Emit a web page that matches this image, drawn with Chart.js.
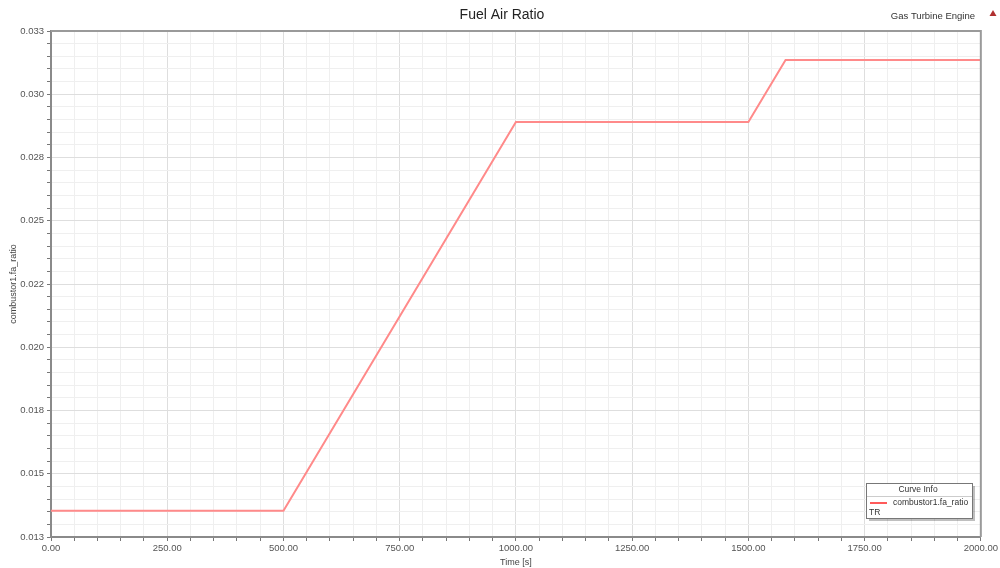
<!DOCTYPE html>
<html>
<head>
<meta charset="utf-8">
<script src="https://cdn.jsdelivr.net/npm/chart.js@4"></script>
<style>
html,body{margin:0;padding:0;background:#fff;}
#wrap{position:relative;width:1000px;height:568px;}
</style>
</head>
<body>
<div id="wrap"><canvas id="c" width="1000" height="568"></canvas></div>
<script>
// ---- data ----
const time = [0, 500, 1000, 1500, 1580, 2000];
const faRatio = [0.01354, 0.01354, 0.02890, 0.02890, 0.03135, 0.03135];
const yMajorTicks = [0.0125, 0.015, 0.0175, 0.02, 0.0225, 0.025, 0.0275, 0.03, 0.0325];
const yTickLabels = ['0.013', '0.015', '0.018', '0.020', '0.022', '0.025', '0.028', '0.030', '0.033'];
const xMajorTicks = [0, 250, 500, 750, 1000, 1250, 1500, 1750, 2000];
const xTickLabels = ['0.00', '250.00', '500.00', '750.00', '1000.00', '1250.00', '1500.00', '1750.00', '2000.00'];
const chartTitle = 'Fuel Air Ratio';
const modelName = 'Gas Turbine Engine';
const seriesName = 'combustor1.fa_ratio';
const legendHeader = 'Curve Info';
const legendFooter = 'TR';
const xTitle = 'Time [s]';
const yTitle = 'combustor1.fa_ratio';

const SUB = 5;
function subdivide(major){
  const out = [];
  for (let i = 0; i < major.length - 1; i++){
    const a = major[i], b = major[i+1];
    for (let k = 0; k < SUB; k++) out.push({value: a + (b - a) * k / SUB, major: k === 0, label: k === 0 ? i : -1});
  }
  out.push({value: major[major.length-1], major: true, label: major.length-1});
  return out;
}
const yTicks = subdivide(yMajorTicks);
const xTicks = subdivide(xMajorTicks);

const FONT = 'Liberation Sans, Arial, sans-serif';

const decor = {
  id: 'decor',
  afterDraw(chart){
    const ctx = chart.ctx, a = chart.chartArea;
    ctx.save();
    // frame top/right
    ctx.strokeStyle = '#9a9a9a';
    ctx.lineWidth = 2;
    ctx.beginPath();
    ctx.moveTo(a.left, a.top); ctx.lineTo(a.right, a.top); ctx.lineTo(a.right, a.bottom);
    ctx.stroke();
    // title
    ctx.fillStyle = '#222';
    ctx.font = '14px ' + FONT;
    ctx.textAlign = 'center'; ctx.textBaseline = 'middle';
    ctx.fillText(chartTitle, 502, 15);
    // model name
    ctx.font = '9.5px ' + FONT;
    ctx.fillStyle = '#333';
    ctx.textAlign = 'right';
    ctx.fillText(modelName, 975, 16);
    // triangle
    ctx.fillStyle = '#b03030';
    ctx.beginPath();
    ctx.moveTo(993, 10); ctx.lineTo(996.5, 16); ctx.lineTo(989.5, 16); ctx.closePath();
    ctx.fill();
    // legend box
    const lx = 866, ly = 483, lw = 106, lh = 35;
    ctx.fillStyle = 'rgba(0,0,0,0.25)';
    ctx.fillRect(lx + 3, ly + 3, lw, lh);
    ctx.fillStyle = '#fff';
    ctx.fillRect(lx, ly, lw, lh);
    ctx.strokeStyle = '#777';
    ctx.lineWidth = 1;
    ctx.strokeRect(lx + 0.5, ly + 0.5, lw, lh);
    ctx.fillStyle = '#333';
    ctx.font = '8.5px ' + FONT;
    ctx.textAlign = 'center';
    ctx.fillText(legendHeader, lx + lw/2 - 1, ly + 7);
    ctx.strokeStyle = '#ccc';
    ctx.beginPath(); ctx.moveTo(lx + 1, ly + 13.5); ctx.lineTo(lx + lw, ly + 13.5); ctx.stroke();
    ctx.strokeStyle = '#ff5a5a';
    ctx.lineWidth = 2;
    ctx.beginPath(); ctx.moveTo(lx + 4, ly + 20); ctx.lineTo(lx + 21, ly + 20); ctx.stroke();
    ctx.textAlign = 'left';
    ctx.fillText(seriesName, lx + 27, ly + 20);
    ctx.fillText(legendFooter, lx + 3, ly + 30);
    ctx.restore();
  }
};

new Chart(document.getElementById('c'), {
  type: 'line',
  data: {
    datasets: [{
      label: seriesName,
      data: time.map((t, i) => ({x: t, y: faRatio[i]})),
      borderColor: '#ff8a8a',
      borderWidth: 2,
      pointRadius: 0,
      tension: 0,
      fill: false
    }]
  },
  options: {
    responsive: false,
    animation: false,
    layout: {padding: {top: 31, right: 18, left: 0, bottom: 0}},
    plugins: {legend: {display: false}, title: {display: false}, tooltip: {enabled: false}},
    scales: {
      x: {
        type: 'linear', min: 0, max: 2000,
        afterBuildTicks(s){ s.ticks = xTicks.map(t => ({value: t.value})); },
        afterFit(s){ s.height = 31; },
        ticks: {
          autoSkip: false, maxRotation: 0, padding: 2,
          color: '#555', font: {family: FONT, size: 9.5},
          callback(v, i){ return xTicks[i] && xTicks[i].major ? xTickLabels[xTicks[i].label] : ''; }
        },
        grid: {
          color(c){ return xTicks[c.index] && xTicks[c.index].major ? '#dedede' : '#efefef'; },
          tickColor: '#777', tickLength: 4, drawTicks: true
        },
        border: {color: '#8a8a8a', width: 2},
        title: {display: true, text: xTitle, color: '#444', font: {family: FONT, size: 9}, padding: {top: 0, bottom: 0}}
      },
      y: {
        type: 'linear', min: 0.0125, max: 0.0325,
        afterBuildTicks(s){ s.ticks = yTicks.map(t => ({value: t.value})); },
        afterFit(s){ s.width = 51; },
        ticks: {
          autoSkip: false, padding: 3,
          color: '#555', font: {family: FONT, size: 9.5},
          callback(v, i){ return yTicks[i] && yTicks[i].major ? yTickLabels[yTicks[i].label] : ''; }
        },
        grid: {
          color(c){ return yTicks[c.index] && yTicks[c.index].major ? '#dedede' : '#efefef'; },
          tickColor: '#777', tickLength: 4
        },
        border: {color: '#8a8a8a', width: 2},
        title: {display: true, text: yTitle, color: '#444', font: {family: FONT, size: 9}, padding: {top: 8, bottom: 0}}
      }
    }
  },
  plugins: [decor]
});
</script>
</body>
</html>
